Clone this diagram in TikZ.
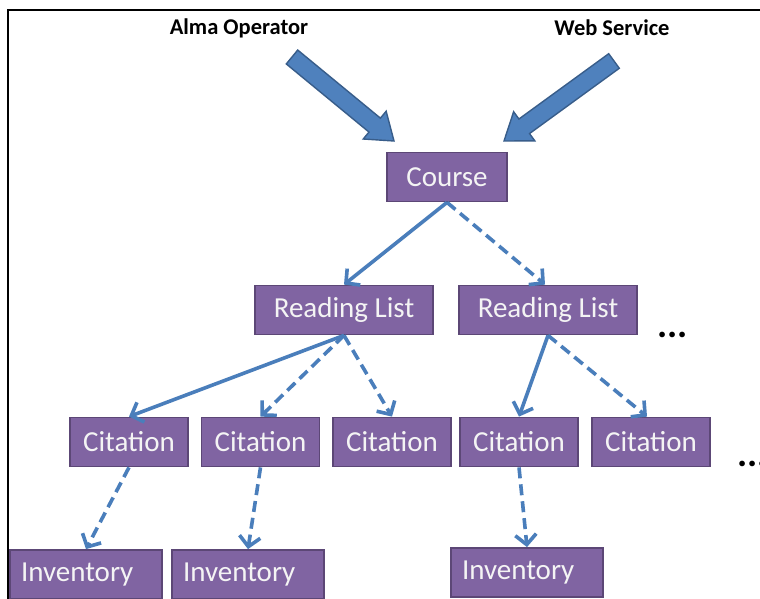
\documentclass[tikz,border=0pt]{standalone}
\usepackage{fontspec}
\setmainfont{Carlito}
\usetikzlibrary{arrows.meta,calc}
\definecolor{boxfill}{HTML}{8064A2}
\definecolor{boxline}{HTML}{5C4776}
\definecolor{conn}{HTML}{4A7EBB}
\definecolor{bafill}{HTML}{4F81BD}
\definecolor{baline}{HTML}{385D8A}
\definecolor{boxtext}{HTML}{F4F4F4}
\begin{document}
\begin{tikzpicture}[x=1pt,y=-1pt,
 box/.style={draw=boxline, fill=boxfill, line width=1.8pt, text=boxtext, font=\fontsize{29}{32}\selectfont, inner sep=0pt, minimum height=49pt},
 invbox/.style={box, minimum width=152pt, text width=130pt, inner xsep=11pt, align=left},
 link/.style={draw=conn, line width=3.6pt, -{Straight Barb[length=10pt,width=21pt]}},
 dashlink/.style={link, dash pattern=on 11pt off 6pt},
 toplabel/.style={font=\bfseries\fontsize{22.5}{26}\selectfont},
 dotstyle/.style={font=\bfseries\fontsize{38}{40}\selectfont, anchor=base west, inner sep=0pt},
 blockarrow/.style={fill=bafill, draw=baline, line width=1.4pt, line join=miter}]
\useasboundingbox (0,0) rectangle (760,599);
\fill[white] (0,0) rectangle (760,599);
\draw[line width=1.5pt] (8,599) -- (8,10) -- (760,10);

\node[toplabel] (alma) at (239,28) {Alma Operator};
\node[toplabel] (web) at (612,28) {Web Service};

\node[box, minimum width=120pt] (course) at (447,177) {Course};
\node[box, minimum width=178pt] (rl1) at (344,310) {Reading List};
\node[box, minimum width=178pt] (rl2) at (548,310) {Reading List};

\node[box, minimum width=118pt] (c1) at (129,442) {Citation};
\node[box, minimum width=118pt] (c2) at (260.5,442) {Citation};
\node[box, minimum width=118pt] (c3) at (392,442) {Citation};
\node[box, minimum width=118pt] (c4) at (519,442) {Citation};
\node[box, minimum width=118pt] (c5) at (651,442) {Citation};

\node[invbox] (i1) at (86,574.5) {Inventory};
\node[invbox] (i2) at (248,574.5) {Inventory};
\node[invbox] (i3) at (527,572.5) {Inventory};

\node[dotstyle] (dots1) at (657,337) {...};
\node[dotstyle] (dots2) at (737,466) {...};

% block arrows
\coordinate (aT) at (292,57); \coordinate (aP) at (394,141);
\coordinate (aB) at ($(aP)!25pt!(aT)$);
\filldraw[blockarrow] ($(aT)!9pt!90:(aP)$) -- ($(aB)!9pt!-90:(aT)$) -- ($(aB)!18pt!-90:(aT)$) -- (aP) -- ($(aB)!18pt!90:(aT)$) -- ($(aB)!9pt!90:(aT)$) -- ($(aT)!9pt!-90:(aP)$) -- cycle;
\coordinate (bT) at (614,61); \coordinate (bP) at (504,141);
\coordinate (bB) at ($(bP)!25pt!(bT)$);
\filldraw[blockarrow] ($(bT)!9pt!90:(bP)$) -- ($(bB)!9pt!-90:(bT)$) -- ($(bB)!18pt!-90:(bT)$) -- (bP) -- ($(bB)!18pt!90:(bT)$) -- ($(bB)!9pt!90:(bT)$) -- ($(bT)!9pt!-90:(bP)$) -- cycle;

% connectors
\draw[link] (course.south) -- (rl1.north);
\draw[dashlink] (course.south) -- ([xshift=-3pt]rl2.north);
\draw[link] (rl1.south) -- (c1.north);
\draw[dashlink] (rl1.south) -- (c2.north);
\draw[dashlink] (rl1.south) -- (c3.north);
\draw[link] (rl2.south) -- (c4.north);
\draw[dashlink] (rl2.south) -- ([xshift=-4pt]c5.north);
\draw[dashlink] (c1.south) -- (i1.north);
\draw[dashlink] (c2.south) -- (i2.north);
\draw[dashlink] (c4.south) -- (i3.north);
\end{tikzpicture}
\end{document}
